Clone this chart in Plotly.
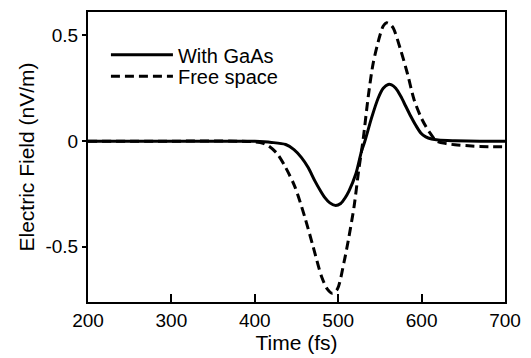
import plotly.graph_objects as go

# With GaAs (solid)
t_gaas = [200, 300, 380, 400, 420, 437, 447, 456, 464, 472, 478, 484, 490, 497, 503,
          508, 513, 521, 528, 532, 540, 548, 554, 560, 564, 569, 575, 581, 587, 593,
          599, 605, 612, 620, 640, 670, 700]
e_gaas = [0, 0, 0, -0.001, -0.006, -0.016, -0.04, -0.078, -0.125, -0.188, -0.23, -0.267,
          -0.292, -0.305, -0.295, -0.27, -0.235, -0.157, -0.047, 0.0, 0.11, 0.204, 0.25,
          0.268, 0.266, 0.25, 0.212, 0.165, 0.118, 0.075, 0.039, 0.02, 0.01, 0.005,
          0.002, 0.0, 0.0]

# Free space (dashed)
t_free = [200, 300, 380, 400, 410, 417, 427, 437, 448, 460, 470, 480, 487, 493, 499,
          507, 513, 519, 524.5, 530, 536, 542, 550, 554, 558, 562, 566, 575, 583, 591,
          599, 605, 610, 618, 630, 640, 660, 680, 700]
e_free = [0, 0, 0, -0.003, -0.01, -0.024, -0.06, -0.125, -0.215, -0.36, -0.5, -0.64,
          -0.7, -0.72, -0.7, -0.572, -0.45, -0.31, -0.14, 0.01, 0.21, 0.37, 0.5, 0.545,
          0.56, 0.553, 0.535, 0.43, 0.32, 0.196, 0.115, 0.07, 0.039, 0.0, -0.012,
          -0.017, -0.023, -0.026, -0.027]

x_ticks = [200, 300, 400, 500, 600, 700]
y_ticks = [-0.5, 0, 0.5]
y_tick_text = ["-0.5", "0", "0.5"]

FONT = "Liberation Sans, Arial, sans-serif"

fig = go.Figure()
fig.add_trace(go.Scatter(x=t_gaas, y=e_gaas, mode="lines", name="With GaAs",
                         legend="legend",
                         line=dict(color="black", width=3, shape="spline", smoothing=0.8)))
fig.add_trace(go.Scatter(x=t_free, y=e_free, mode="lines", name="Free space",
                         legend="legend2",
                         line=dict(color="black", width=3, dash="9px,5px",
                                   shape="spline", smoothing=0.8)))

legend_common = dict(xanchor="left", yanchor="top", bgcolor="rgba(0,0,0,0)",
                     font=dict(size=20, family=FONT), itemwidth=62)

fig.update_layout(
    width=531, height=358,
    margin=dict(l=88, r=16, t=10, b=56),
    paper_bgcolor="white", plot_bgcolor="white",
    font=dict(family=FONT, color="black", size=19),
    showlegend=True,
    legend=dict(x=0.043, y=0.92, **legend_common),
    legend2=dict(x=0.043, y=0.846, **legend_common),
    xaxis=dict(range=[200, 700], tickvals=x_ticks, ticks="inside", ticklen=8,
               tickwidth=1.5, tickcolor="black", showline=True, linewidth=2,
               linecolor="black", mirror=True, showgrid=False, zeroline=False,
               title=dict(text="Time (fs)", font=dict(size=21), standoff=0),
               tickfont=dict(size=19)),
    yaxis=dict(range=[-0.761, 0.611], tickvals=y_ticks, ticktext=y_tick_text,
               ticks="outside", ticklen=4, tickwidth=1.5, tickcolor="black",
               showline=True, linewidth=2, linecolor="black", mirror=True,
               showgrid=False, zeroline=False,
               title=dict(text="Electric Field (nV/m)", font=dict(size=21), standoff=5),
               tickfont=dict(size=19)),
)

fig.write_html("out.html")
